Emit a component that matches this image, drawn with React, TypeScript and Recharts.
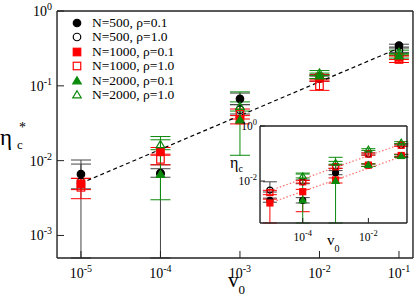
import { ScatterChart, Scatter, XAxis, YAxis, ErrorBar, Legend, Label } from 'recharts';

const SERIF = "'Liberation Serif', 'Times New Roman', serif";
const BLACK = '#000000';
const RED = '#ff0000';
const GREEN = '#0b8a0b';

const v0 = [1e-5, 1e-4, 1e-3, 1e-2, 1e-1];

// main panel: eta*_c
const mainN500r01 = [0.0066, 0.0067, 0.067, 0.133, 0.345];
const mainN500r10 = [0.0052, 0.0068, 0.048, 0.125, 0.3];
const mainN1000r01 = [0.0049, 0.0133, 0.035, 0.13, 0.24];
const mainN1000r10 = [0.0044, 0.0104, 0.042, 0.1, 0.225];
const mainN2000r01 = [null, 0.0065, 0.035, 0.135, 0.25];
const mainN2000r10 = [null, 0.0163, 0.053, 0.148, 0.28];

// error bar ends [low, high]; 5e-4 means the bar runs off the bottom
const mainErrN500r01 = [[5e-4, 0.0102], [5e-4, 0.0088], [0.056, 0.08], [0.125, 0.142], [0.33, 0.36]];
const mainErrN500r10 = [[0.0042, 0.009], [0.006, 0.0078], [0.042, 0.056], [0.115, 0.135], [0.28, 0.32]];
const mainErrN1000r01 = [[0.0041, 0.0058], [0.0118, 0.015], [0.031, 0.04], [0.12, 0.14], [0.225, 0.255]];
const mainErrN1000r10 = [[0.0031, 0.0058], [0.0088, 0.0122], [0.036, 0.049], [0.087, 0.115], [0.205, 0.25]];
const mainErrN2000r01 = [null, [0.003, 0.021], [0.0118, 0.083], [0.125, 0.148], [0.235, 0.27]];
const mainErrN2000r10 = [null, [0.014, 0.019], [0.046, 0.061], [0.137, 0.16], [0.26, 0.3]];

// inset: eta_c
const insetN500r01 = [0.002, 0.002, 0.02, 0.038, 0.085];
const insetN500r10 = [0.0047, 0.0094, 0.033, 0.096, 0.2];
const insetN1000r01 = [0.0016, 0.0041, 0.011, 0.038, 0.085];
const insetN1000r10 = [0.0038, 0.0094, 0.033, 0.096, 0.2];
const insetN2000r01 = [null, 0.002, 0.01, 0.038, 0.08];
const insetN2000r10 = [null, 0.015, 0.046, 0.14, 0.25];

const insetErrN500r01 = [[0.0017, 0.0024], [0.0016, 0.0025], [0.017, 0.024], [0.034, 0.042], [0.078, 0.092]];
const insetErrN500r10 = [[0.004, 0.0094], [0.008, 0.011], [0.029, 0.038], [0.088, 0.105], [0.19, 0.22]];
const insetErrN1000r01 = [[3e-4, 0.0022], [0.00077, 0.005], [0.0085, 0.013], [0.034, 0.042], [0.075, 0.095]];
const insetErrN1000r10 = [[0.0032, 0.0046], [0.0085, 0.0105], [0.029, 0.038], [0.088, 0.105], [0.18, 0.22]];
const insetErrN2000r01 = [null, [3e-4, 0.0195], [3e-4, 0.073], [0.034, 0.042], [0.072, 0.09]];
const insetErrN2000r10 = [null, [0.013, 0.018], [0.041, 0.052], [0.13, 0.15], [0.23, 0.27]];

// power-law guide lines
const fitV0 = [1e-5, 1e-1];
const fitMain = [0.005, 0.32];
const fitInsetUpper = [0.0045, 0.22];
const fitInsetLower = [0.0016, 0.077];

// axes
const mainXDomain = [5e-6, 0.15];
const mainYDomain = [5e-4, 1];
const insetXDomain = [5e-6, 0.15];
const insetYDomain = [3e-4, 1];
const mainXMajor = [1e-5, 1e-4, 1e-3, 1e-2, 1e-1];
const mainYMajor = [1, 0.1, 0.01, 0.001];
const insetXMajor = [1e-4, 1e-2];
const insetYMajor = [1, 0.01];
const mult = [2, 3, 4, 5, 6, 7, 8, 9];
const mainXMinor = [6e-6, 7e-6, 8e-6, 9e-6, ...[1e-5, 1e-4, 1e-3, 1e-2].flatMap((d) => mult.map((m) => m * d))];
const mainYMinor = [6e-4, 7e-4, 8e-4, 9e-4, ...[1e-3, 1e-2, 1e-1].flatMap((d) => mult.map((m) => m * d))];
const insetXMinor = [6e-6, 7e-6, 8e-6, 9e-6, 1e-5, ...mult.map((m) => m * 1e-4), 1e-3, ...mult.map((m) => m * 1e-2), 1e-1];
const insetYMinor = [4e-4, 5e-4, 6e-4, 7e-4, 8e-4, 9e-4, 1e-3, ...mult.map((m) => m * 1e-2), 1e-1];

const names = ['N=500, ρ=0.1', 'N=500, ρ=1.0', 'N=1000, ρ=0.1', 'N=1000, ρ=1.0', 'N=2000, ρ=0.1', 'N=2000, ρ=1.0'];

type Kind = 'circle' | 'square' | 'triangle';
const looks: { kind: Kind; color: string; filled: boolean; bar: string }[] = [
  { kind: 'circle', color: BLACK, filled: true, bar: '#444' },
  { kind: 'circle', color: BLACK, filled: false, bar: '#444' },
  { kind: 'square', color: RED, filled: true, bar: RED },
  { kind: 'square', color: RED, filled: false, bar: RED },
  { kind: 'triangle', color: GREEN, filled: true, bar: GREEN },
  { kind: 'triangle', color: GREEN, filled: false, bar: GREEN },
];

const mainVals = [mainN500r01, mainN500r10, mainN1000r01, mainN1000r10, mainN2000r01, mainN2000r10];
const mainErrs = [mainErrN500r01, mainErrN500r10, mainErrN1000r01, mainErrN1000r10, mainErrN2000r01, mainErrN2000r10];
const insetVals = [insetN500r01, insetN500r10, insetN1000r01, insetN1000r10, insetN2000r01, insetN2000r10];
const insetErrs = [insetErrN500r01, insetErrN500r10, insetErrN1000r01, insetErrN1000r10, insetErrN2000r01, insetErrN2000r10];

const toPoints = (ys: (number | null)[], bounds: (number[] | null)[]) =>
  v0.flatMap((x, i) => {
    const y = ys[i];
    const b = bounds[i];
    if (y == null || !b) return [];
    return [{ x, y, err: [y - b[0], b[1] - y] }];
  });

const fitPoints = (ys: number[]) => fitV0.map((x, i) => ({ x, y: ys[i] }));

function marker(kind: Kind, color: string, filled: boolean, s: number, cx: number, cy: number) {
  const fill = filled ? color : 'none';
  if (kind === 'circle') return <circle cx={cx} cy={cy} r={s / 2} fill={fill} stroke={color} strokeWidth={1.2} />;
  if (kind === 'square') return <rect x={cx - s / 2} y={cy - s / 2} width={s} height={s} fill={fill} stroke={color} strokeWidth={1.2} />;
  const h = s * 0.95;
  return (
    <polygon
      points={`${cx},${cy - h * 0.6} ${cx + s / 2 + 0.5},${cy + h * 0.4} ${cx - s / 2 - 0.5},${cy + h * 0.4}`}
      fill={fill}
      stroke={color}
      strokeWidth={1.2}
    />
  );
}

const shapeOf = (i: number, s: number) => (p: any) => marker(looks[i].kind, looks[i].color, looks[i].filled, s, p.cx, p.cy);

const powTick = (size: number, sup: number, rise: number, anchor: 'middle' | 'end', shiftY: number) => (p: any) => {
  const e = Math.round(Math.log10(p.payload.value));
  return (
    <text x={p.x} y={p.y + shiftY} textAnchor={anchor} fontFamily={SERIF} fontSize={size} fill="#000">
      10<tspan fontSize={sup} dy={-rise}>{String(e)}</tspan>
    </text>
  );
};

const axisLine = { stroke: '#222', strokeWidth: 1.4 };
const tickLine = { stroke: '#222', strokeWidth: 1 };
const THIN = 0.01; // axes must have a size > 0 to be drawn

type Frame = {
  k: string;
  xd: number[];
  yd: number[];
  xMaj: number[];
  xMin: number[];
  yMaj: number[];
  yMin: number[];
  big: number;
  small: number;
  xTick: any;
  yTick: any;
  xGap: number;
  yGap: number;
  xTitle: any;
  yTitle: any;
};

function frame(f: Frame) {
  const c = { type: 'number' as const, scale: 'log' as const, allowDataOverflow: true, interval: 0 as const, tickLine };
  return [
    <XAxis key="xb" xAxisId={f.k + 'x'} dataKey="x" orientation="bottom" domain={f.xd} ticks={f.xMaj} height={THIN} tickSize={-f.big} tickMargin={f.xGap} tick={f.xTick} axisLine={axisLine} {...c}>
      <Label content={f.xTitle} />
    </XAxis>,
    <XAxis key="xbm" xAxisId={f.k + 'xm'} orientation="bottom" domain={f.xd} ticks={f.xMin} height={THIN} tickSize={-f.small} tick={false} axisLine={false} {...c} />,
    <XAxis key="xt" xAxisId={f.k + 'xt'} orientation="top" domain={f.xd} ticks={f.xMaj} height={THIN} tickSize={-f.big} tick={false} axisLine={axisLine} {...c} />,
    <XAxis key="xtm" xAxisId={f.k + 'xtm'} orientation="top" domain={f.xd} ticks={f.xMin} height={THIN} tickSize={-f.small} tick={false} axisLine={false} {...c} />,
    <YAxis key="yl" yAxisId={f.k + 'y'} dataKey="y" orientation="left" domain={f.yd} ticks={f.yMaj} width={THIN} tickSize={-f.big} tickMargin={f.yGap} tick={f.yTick} axisLine={axisLine} {...c}>
      <Label content={f.yTitle} />
    </YAxis>,
    <YAxis key="ylm" yAxisId={f.k + 'ym'} orientation="left" domain={f.yd} ticks={f.yMin} width={THIN} tickSize={-f.small} tick={false} axisLine={false} {...c} />,
    <YAxis key="yr" yAxisId={f.k + 'yr'} orientation="right" domain={f.yd} ticks={f.yMaj} width={THIN} tickSize={-f.big} tick={false} axisLine={axisLine} {...c} />,
    <YAxis key="yrm" yAxisId={f.k + 'yrm'} orientation="right" domain={f.yd} ticks={f.yMin} width={THIN} tickSize={-f.small} tick={false} axisLine={false} {...c} />,
  ];
}

const mainXTitle = (p: any) => {
  const vb = p.viewBox;
  return (
    <text x={vb.x + vb.width / 2 - 7} y={vb.y + 29} fontFamily={SERIF} fontSize={21} fill="#000">
      v<tspan fontSize={13} dy={7}>0</tspan>
    </text>
  );
};

const mainYTitle = (p: any) => {
  const vb = p.viewBox;
  return (
    <text x={vb.x - 57} y={vb.y + vb.height / 2 + 10} fontFamily={SERIF} fontSize={23} fill="#000">
      η<tspan fontSize={14} dx={7} dy={-13}>*</tspan>
      <tspan fontSize={13} dx={-9} dy={17}>c</tspan>
    </text>
  );
};

const insetXTitle = (p: any) => {
  const vb = p.viewBox;
  return (
    <text x={vb.x + vb.width / 2 - 6.5} y={vb.y + 22} fontFamily={SERIF} fontSize={15} fill="#000">
      v<tspan fontSize={10} dy={7}>0</tspan>
    </text>
  );
};

const insetYTitle = (p: any) => {
  const vb = p.viewBox;
  return (
    <text x={vb.x - 30} y={vb.y + vb.height / 2 - 7} fontFamily={SERIF} fontSize={16} fill="#000">
      η<tspan fontSize={10} dy={4}>c</tspan>
    </text>
  );
};

const renderLegend = () => (
  <div style={{ fontFamily: SERIF, fontSize: 13.5, color: '#000' }}>
    {names.map((n, i) => (
      <div key={n} style={{ display: 'flex', alignItems: 'center', height: 14.5 }}>
        <svg width={12} height={12} style={{ marginRight: 9, overflow: 'visible' }}>
          {marker(looks[i].kind, looks[i].color, looks[i].filled, 7.5, 6, 6)}
        </svg>
        <span style={{ lineHeight: '14px', whiteSpace: 'nowrap' }}>{n}</span>
      </div>
    ))}
  </div>
);

export default function App() {
  return (
    <div style={{ position: 'absolute', left: 0, top: 0, width: 415, height: 301, background: '#fff' }}>
      <ScatterChart width={415} height={301} margin={{ top: 11, right: 2, bottom: 43, left: 57 }}>
        {frame({
          k: 'm',
          xd: mainXDomain,
          yd: mainYDomain,
          xMaj: mainXMajor,
          xMin: mainXMinor,
          yMaj: mainYMajor,
          yMin: mainYMinor,
          big: 7,
          small: 4,
          xTick: powTick(14, 10, 6, 'middle', 0),
          yTick: powTick(14, 10, 6, 'end', 5),
          xGap: 27,
          yGap: 12,
          xTitle: mainXTitle,
          yTitle: mainYTitle,
        })}
        <Legend layout="vertical" align="center" verticalAlign="middle" width={130} wrapperStyle={{ left: 71, top: 15.5 }} content={renderLegend} />
        <Scatter
          name="fit"
          legendType="none"
          data={fitPoints(fitMain)}
          xAxisId="mx"
          yAxisId="my"
          line={{ stroke: '#000', strokeWidth: 1.2, strokeDasharray: '4 3' }}
          shape={() => <g />}
          isAnimationActive={false}
        />
        {names.map((n, i) => (
          <Scatter key={n} name={n} data={toPoints(mainVals[i], mainErrs[i])} xAxisId="mx" yAxisId="my" shape={shapeOf(i, 7.5)} isAnimationActive={false}>
            <ErrorBar dataKey="err" direction="y" width={10} stroke={looks[i].bar} strokeWidth={1} />
          </Scatter>
        ))}
      </ScatterChart>

      <div style={{ position: 'absolute', left: 260, top: 126, width: 147, height: 97, background: '#fff' }} />
      <div style={{ position: 'absolute', left: 220, top: 115 }}>
        <ScatterChart width={200} height={150} margin={{ top: 11, right: 13, bottom: 42, left: 40 }}>
          {frame({
            k: 'i',
            xd: insetXDomain,
            yd: insetYDomain,
            xMaj: insetXMajor,
            xMin: insetXMinor,
            yMaj: insetYMajor,
            yMin: insetYMinor,
            big: 5,
            small: 3,
            xTick: powTick(11.5, 8.5, 5, 'middle', 0),
            yTick: powTick(11.5, 8.5, 5, 'end', 4),
            xGap: 23.5,
            yGap: 8,
            xTitle: insetXTitle,
            yTitle: insetYTitle,
          })}
          <Scatter data={fitPoints(fitInsetUpper)} xAxisId="ix" yAxisId="iy" line={{ stroke: '#ff7070', strokeWidth: 1.2, strokeDasharray: '1.5 2' }} shape={() => <g />} isAnimationActive={false} />
          <Scatter data={fitPoints(fitInsetLower)} xAxisId="ix" yAxisId="iy" line={{ stroke: '#ff7070', strokeWidth: 1.2, strokeDasharray: '1.5 2' }} shape={() => <g />} isAnimationActive={false} />
          {names.map((n, i) => (
            <Scatter key={n} name={n} data={toPoints(insetVals[i], insetErrs[i])} xAxisId="ix" yAxisId="iy" shape={shapeOf(i, 6)} isAnimationActive={false}>
              <ErrorBar dataKey="err" direction="y" width={7} stroke={looks[i].bar} strokeWidth={1} />
            </Scatter>
          ))}
        </ScatterChart>
      </div>
    </div>
  );
}
